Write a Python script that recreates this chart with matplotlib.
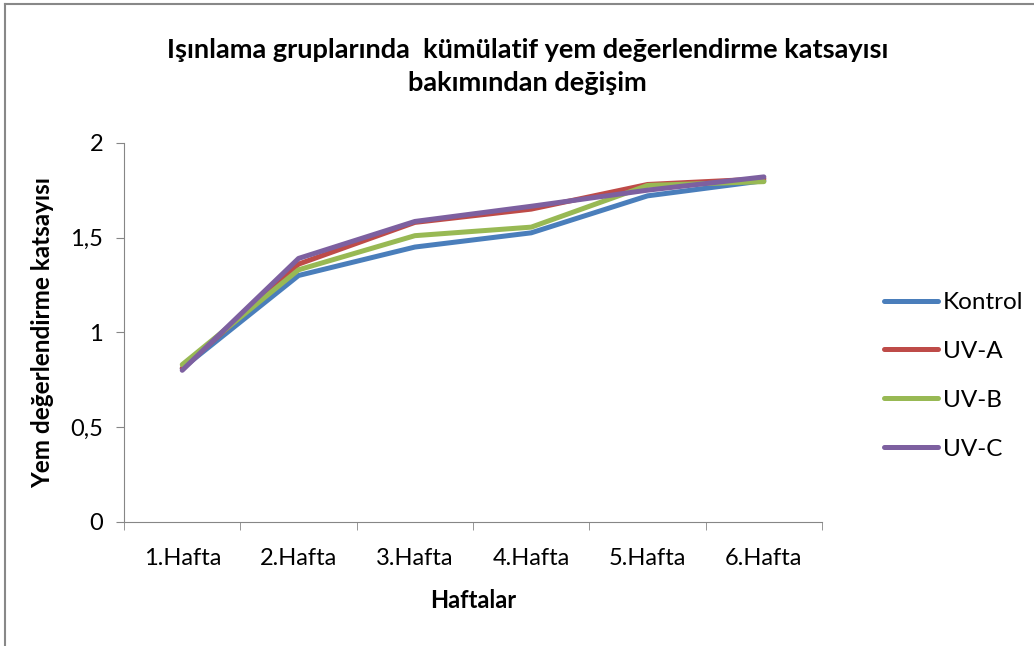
import matplotlib
matplotlib.use("Agg")
import matplotlib.pyplot as plt
from matplotlib.lines import Line2D
from matplotlib.ticker import FuncFormatter

plt.rcParams['font.family'] = ['Lato', 'DejaVu Sans']

weeks = ["1.Hafta", "2.Hafta", "3.Hafta", "4.Hafta", "5.Hafta", "6.Hafta"]
kontrol = [0.81, 1.30, 1.45, 1.525, 1.72, 1.80]
uv_a = [0.81, 1.36, 1.58, 1.65, 1.78, 1.81]
uv_b = [0.83, 1.33, 1.51, 1.555, 1.775, 1.795]
uv_c = [0.80, 1.39, 1.585, 1.665, 1.75, 1.82]

series = [("Kontrol", kontrol, "#4a7ebb"),
          ("UV-A", uv_a, "#be4b48"),
          ("UV-B", uv_b, "#98b954"),
          ("UV-C", uv_c, "#7d60a0")]

fig = plt.figure(figsize=(10.34, 6.46), dpi=100)
ax = fig.add_axes([0.12, 0.192, 0.675, 0.587])

x = list(range(len(weeks)))
for name, vals, col in series:
    ax.plot(x, vals, color=col, lw=3.6, label=name, solid_capstyle='round')

ax.set_xlim(-0.5, len(weeks) - 0.5)
ax.set_ylim(0, 2)
ax.set_yticks([0, 0.5, 1, 1.5, 2])
ax.yaxis.set_major_formatter(FuncFormatter(lambda v, p: ("%g" % v).replace(".", ",")))
ax.set_xticks(x)
ax.set_xticklabels(weeks)
ax.set_xticks([i - 0.5 for i in range(len(weeks) + 1)], minor=True)
ax.tick_params(axis='x', which='major', length=0, pad=19, labelsize=17)
ax.tick_params(axis='x', which='minor', length=6, color='#868686')
ax.tick_params(axis='y', length=6, color='#868686', labelsize=17, pad=9)

for s in ['top', 'right']:
    ax.spines[s].set_visible(False)
for s in ['left', 'bottom']:
    ax.spines[s].set_color('#868686')

ax.set_xlabel("Haftalar", fontsize=17, fontweight='bold', labelpad=14)
ax.set_ylabel("Yem değerlendirme katsayısı", fontsize=17.5, fontweight='bold', labelpad=12)

fig.text(0.51, 0.897, "Işınlama gruplarında  kümülatif yem değerlendirme katsayısı\nbakımından değişim",
         ha='center', va='center', fontsize=19.5, fontweight='bold', linespacing=1.45)

ax.legend(loc='center left', bbox_to_anchor=(1.058, 0.385), frameon=False,
          fontsize=17.5, handlelength=2.2, handletextpad=0.2, labelspacing=1.15)

# outer frame (left and top edges visible)
fig.add_artist(Line2D([0.005, 0.005], [0.0, 0.994], transform=fig.transFigure, color='#888888', lw=1.5))
fig.add_artist(Line2D([0.005, 1.0], [0.994, 0.994], transform=fig.transFigure, color='#888888', lw=1.5))

fig.savefig("out.png", dpi=100)
